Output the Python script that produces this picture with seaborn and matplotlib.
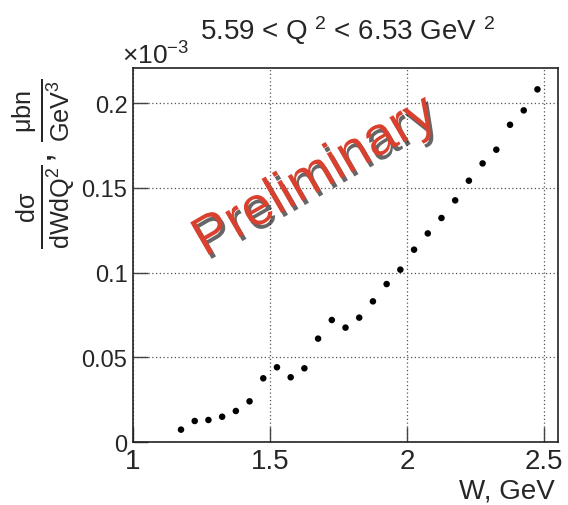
import numpy as np
import pandas as pd
import matplotlib
matplotlib.use("Agg")
import matplotlib.pyplot as plt
import matplotlib.patheffects as pe
import seaborn as sns

# ── Data ──────────────────────────────────────────────────────────────────────
w_gev = [1.175, 1.225, 1.275, 1.325, 1.375, 1.425, 1.475, 1.525, 1.575, 1.625,
         1.675, 1.725, 1.775, 1.825, 1.875, 1.925, 1.975, 2.025, 2.075, 2.125,
         2.175, 2.225, 2.275, 2.325, 2.375, 2.425, 2.475]
xsec_e3 = [0.0073, 0.0124, 0.0130, 0.0149, 0.0183, 0.0240, 0.0376, 0.0441, 0.0382, 0.0435,
           0.0610, 0.0720, 0.0675, 0.0734, 0.0830, 0.0932, 0.1017, 0.1135, 0.1231, 0.1322,
           0.1426, 0.1542, 0.1644, 0.1725, 0.1872, 0.1957, 0.2081]
x_ticks = [1, 1.5, 2, 2.5]
x_ticklabels = ["1", "1.5", "2", "2.5"]
y_ticks = [0, 0.05, 0.1, 0.15, 0.2]
y_ticklabels = ["0", "0.05", "0.1", "0.15", "0.2"]

df = pd.DataFrame({"W": w_gev, "xsec": xsec_e3})

# ── Style ─────────────────────────────────────────────────────────────────────
sns.set_style("ticks")
plt.rcParams["font.family"] = ["Liberation Sans", "DejaVu Sans"]
plt.rcParams["mathtext.fontset"] = "custom"
plt.rcParams["mathtext.rm"] = "Liberation Sans"
plt.rcParams["mathtext.it"] = "Liberation Sans"
plt.rcParams["mathtext.sf"] = "Liberation Sans"

fig = plt.figure(figsize=(5.68, 5.06), dpi=100)
ax = fig.add_axes([0.2342, 0.1245, 0.7482, 0.7391])

sns.scatterplot(data=df, x="W", y="xsec", ax=ax, color="black", s=22,
                edgecolor="none", zorder=3)

ax.set_xlim(1.0, 2.55)
ax.set_ylim(0, 0.2207)
ax.set_xticks(x_ticks)
ax.set_xticklabels(x_ticklabels, fontsize=20)
ax.set_yticks(y_ticks)
ax.set_yticklabels(y_ticklabels, fontsize=17)
ax.tick_params(direction="in", length=11, width=1, color="#444444", pad=4)
ax.grid(True, linestyle=(0, (1, 2)), color="#555555", linewidth=0.9)
for s in ax.spines.values():
    s.set_linewidth(1.2)
    s.set_color("#222222")

ax.set_xlabel("")
ax.set_ylabel("")
fig.text(0.977, 0.003, "W, GeV", ha="right", va="bottom", fontsize=20)
fig.text(0.077, 0.676,
         r"$\frac{\mathrm{d}\sigma}{\mathrm{dWdQ}^{2}}$, $\frac{\mu\mathrm{bn}}{\mathrm{GeV}^{3}}$",
         rotation=90, ha="center", va="center", fontsize=26)

fig.text(0.611, 0.972, r"5.59 < Q $^{2}$ < 6.53 GeV $^{2}$", ha="center",
         va="top", fontsize=20)
fig.text(0.215, 0.862, r"$\times$10$^{-3}$", ha="left", va="bottom", fontsize=19)

# watermark
fig.text(0.555, 0.648, "Preliminary", rotation=30, ha="center", va="center",
         fontsize=39, color="#d9412e", zorder=5,
         path_effects=[pe.SimplePatchShadow(offset=(2, -3), alpha=0.6,
                                            shadow_rgbFace="black"),
                       pe.Normal()])

plt.savefig("out.png", dpi=100)
plt.close()
